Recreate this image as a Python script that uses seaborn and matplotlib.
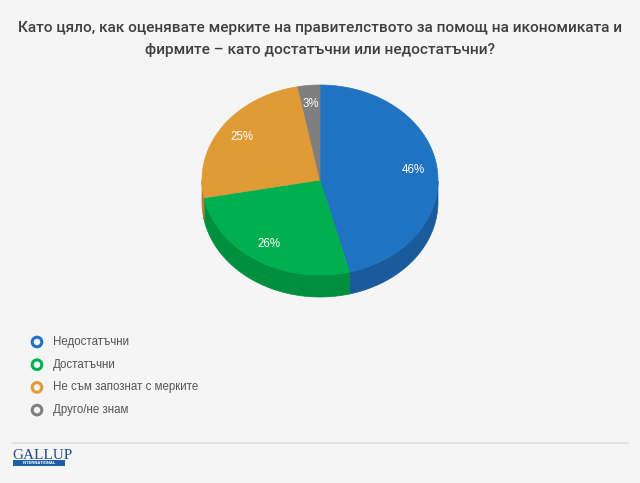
import numpy as np
import matplotlib
matplotlib.use("Agg")
import matplotlib.pyplot as plt
from matplotlib.patches import Polygon, Rectangle
import seaborn as sns

# ── Data ─────────────────────────────────────────────────────
categories = ["Недостатъчни", "Достатъчни", "Не съм запознат с мерките", "Друго/не знам"]
values = [46, 26, 25, 3]
labels = ["46%", "26%", "25%", "3%"]
top_colors = ["#1f73c1", "#00b050", "#e09a36", "#7f7f7f"]
side_colors = ["#195b9c", "#008f3f", "#b97e2b", "#676767"]
title = ("Като цяло, как оценявате мерките на правителството за помощ на икономиката и\n"
         "фирмите – като достатъчни или недостатъчни?")

sns.set_theme(style="white")
plt.rcParams['font.family'] = ['Liberation Sans', 'DejaVu Sans']

W, H = 640, 483
fig = plt.figure(figsize=(W / 100, H / 100), dpi=100, facecolor="#f5f5f5")
ax = fig.add_axes([0, 0, 1, 1])
ax.set_xlim(0, W)
ax.set_ylim(H, 0)
ax.axis("off")
ax.set_facecolor("#f5f5f5")

# pie geometry (pixel space, y down)
cx, cy, a, b, depth = 320, 180, 118, 95, 22

fracs = np.array(values) / sum(values)
bounds = 90 - 360 * np.concatenate([[0], np.cumsum(fracs)])  # math angles, clockwise from top


def pt(t):
    r = np.radians(t)
    return cx + a * np.cos(r), cy - b * np.sin(r)


# sides first (only the front half)
for i in range(len(values)):
    t0, t1 = bounds[i], bounds[i + 1]
    ts = np.linspace(t1, t0, 200)
    mask = np.mod(ts, 360) >= 180
    if not mask.any():
        continue
    top = [pt(t) for t in ts[mask]]
    bot = [(x, y + depth) for x, y in top[::-1]]
    ax.add_patch(Polygon(top + bot, closed=True, facecolor=side_colors[i],
                         edgecolor=side_colors[i], lw=0.5))

# top faces
for i in range(len(values)):
    t0, t1 = bounds[i], bounds[i + 1]
    ts = np.linspace(t0, t1, 200)
    poly = [(cx, cy)] + [pt(t) for t in ts]
    ax.add_patch(Polygon(poly, closed=True, facecolor=top_colors[i],
                         edgecolor=top_colors[i], lw=0.5))
    tm = np.radians((t0 + t1) / 2)
    ax.text(cx + 0.8 * a * np.cos(tm), cy - 0.8 * b * np.sin(tm), labels[i],
            ha="center", va="center", color="white", fontsize=8.3)

# title
ax.text(W / 2, 39, title, ha="center", va="center", fontsize=11.1, fontweight="medium",
        color="#3f3f3f", family=["Roboto", "DejaVu Sans"], linespacing=1.65)

# legend
for i, cat in enumerate(categories):
    y = 342 + i * 22.7
    ax.scatter([37], [y], s=48, facecolors="none", edgecolors=top_colors[i], linewidths=2.2)
    ax.text(53, y, cat, ha="left", va="center", fontsize=8.3, color="#555555")

# footer
ax.plot([13, 628], [443, 443], color="#dddddd", lw=1.2)
ax.text(12, 459, "GALLUP", ha="left", va="baseline", fontsize=11, color="#1f4e8c",
        family=["Liberation Serif", "DejaVu Serif"])
ax.add_patch(Rectangle((13, 460), 52, 6, facecolor="#1f5fa8", edgecolor="none"))
ax.text(39, 463.2, "INTERNATIONAL", ha="center", va="center", fontsize=3, color="white",
        fontweight="bold")

fig.savefig("out.png", dpi=100, facecolor=fig.get_facecolor())
